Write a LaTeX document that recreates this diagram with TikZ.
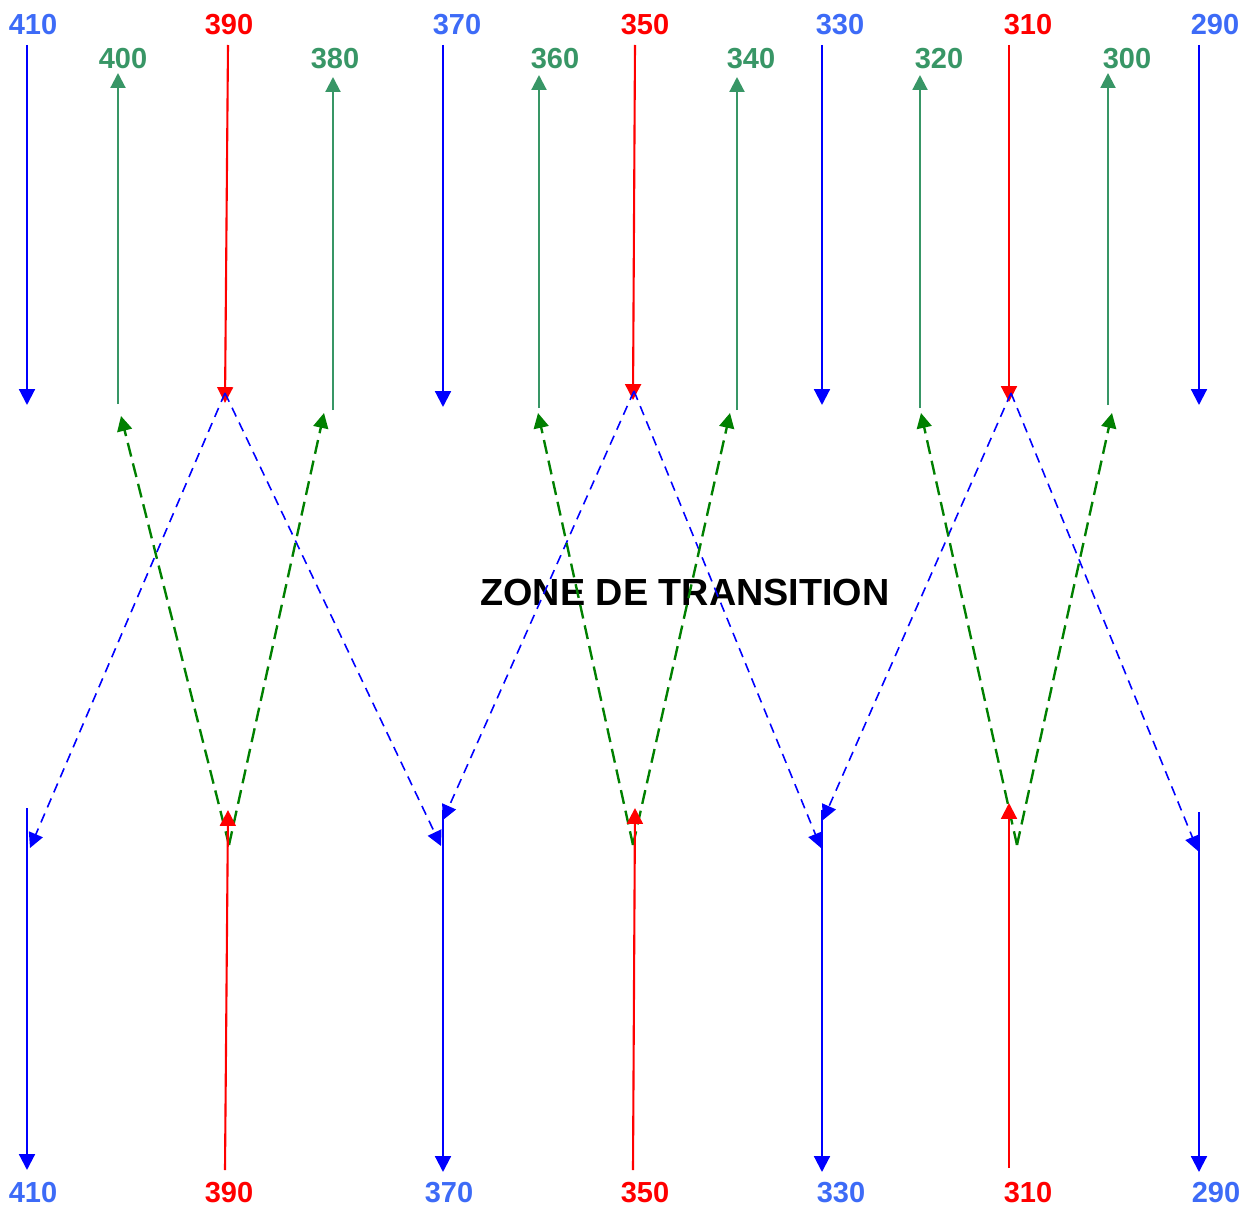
\documentclass[tikz,border=0pt]{standalone}
\usepackage{fontspec}
\setmainfont{Liberation Sans}
\usepackage{xcolor}
\usepackage{tikz}
\usetikzlibrary{arrows.meta, positioning, calc}

\definecolor{numblue}{RGB}{61,107,247}
\definecolor{numgreen}{RGB}{56,150,102}
\definecolor{dashgreen}{RGB}{0,128,0}

\tikzset{
  lblblue/.style={text=numblue, font=\bfseries\fontsize{16.5}{18}\selectfont, inner sep=0pt},
  lblred/.style={text=red, font=\bfseries\fontsize{16.5}{18}\selectfont, inner sep=0pt},
  lblgreen/.style={text=numgreen, font=\bfseries\fontsize{16.5}{18}\selectfont, inner sep=0pt},
  bluearr/.style={draw=blue, line width=1.2pt, -{Triangle[length=9pt, width=9pt]}, blue},
  redarr/.style={draw=red, line width=1.2pt, -{Triangle[length=9pt, width=9pt]}, red},
  greenarr/.style={draw=numgreen, line width=1.2pt, -{Triangle[length=8.5pt, width=8.5pt]}, numgreen},
  bluedash/.style={draw=blue, line width=0.9pt, dash pattern=on 5.5pt off 3.8pt, -{Triangle[length=8.5pt, width=8.5pt]}, blue},
  greendash/.style={draw=dashgreen, line width=1.35pt, dash pattern=on 8pt off 4pt, -{Triangle[length=8.5pt, width=8.5pt]}, dashgreen}
}

\begin{document}
\begin{tikzpicture}[x=0.02cm, y=-0.02cm]
      \useasboundingbox (0,0) rectangle (1252,1220);

      % top labels
      \node[lblblue] at (33,25) (t410) {410};
      \node[lblred] at (229,25) (t390) {390};
      \node[lblblue] at (457,25) (t370) {370};
      \node[lblred] at (645,25) (t350) {350};
      \node[lblblue] at (840,25) (t330) {330};
      \node[lblred] at (1028,25) (t310) {310};
      \node[lblblue] at (1215,25) (t290) {290};

      \node[lblgreen] at (123,59) (t400) {400};
      \node[lblgreen] at (335,59) (t380) {380};
      \node[lblgreen] at (555,59) (t360) {360};
      \node[lblgreen] at (751,59) (t340) {340};
      \node[lblgreen] at (939,59) (t320) {320};
      \node[lblgreen] at (1127,59) (t300) {300};

      % bottom labels
      \node[lblblue] at (33,1193) (b410) {410};
      \node[lblred] at (229,1193) (b390) {390};
      \node[lblblue] at (449,1193) (b370) {370};
      \node[lblred] at (645,1193) (b350) {350};
      \node[lblblue] at (841,1193) (b330) {330};
      \node[lblred] at (1028,1193) (b310) {310};
      \node[lblblue] at (1216,1193) (b290) {290};

      \node[font=\bfseries\fontsize{21.5}{26}\selectfont] at (685,592) (zone) {ZONE DE TRANSITION};

      % upper arrow ends
      \coordinate (u410a) at (27,45);   \coordinate (u410b) at (27,405);
      \coordinate (u370a) at (443,45);  \coordinate (u370b) at (443,407);
      \coordinate (u330a) at (822,45);  \coordinate (u330b) at (822,405);
      \coordinate (u290a) at (1199,45); \coordinate (u290b) at (1199,405);
      \coordinate (u390a) at (228,45);  \coordinate (u390b) at (225,403);
      \coordinate (u350a) at (635,45);  \coordinate (u350b) at (633,400);
      \coordinate (u310a) at (1009,45); \coordinate (u310b) at (1009,402);
      \coordinate (u400a) at (118,404); \coordinate (u400b) at (118,73);
      \coordinate (u380a) at (333,410); \coordinate (u380b) at (333,77);
      \coordinate (u360a) at (539,408); \coordinate (u360b) at (539,75);
      \coordinate (u340a) at (737,410); \coordinate (u340b) at (737,77);
      \coordinate (u320a) at (920,408); \coordinate (u320b) at (920,75);
      \coordinate (u300a) at (1108,405); \coordinate (u300b) at (1108,73);

      % lower arrow ends
      \coordinate (l410a) at (27,808);   \coordinate (l410b) at (27,1170);
      \coordinate (l370a) at (443,810);  \coordinate (l370b) at (443,1172);
      \coordinate (l330a) at (822,810);  \coordinate (l330b) at (822,1172);
      \coordinate (l290a) at (1199,812); \coordinate (l290b) at (1199,1172);
      \coordinate (l390a) at (225,1170); \coordinate (l390b) at (228,810);
      \coordinate (l350a) at (633,1170); \coordinate (l350b) at (635,808);
      \coordinate (l310a) at (1009,1168); \coordinate (l310b) at (1009,803);

      % transition points
      \coordinate (x390) at (225,393);
      \coordinate (x350) at (634,391);
      \coordinate (x310) at (1011,393);
      \coordinate (v390) at (229,845);
      \coordinate (v350) at (633,845);
      \coordinate (v310) at (1017,845);

      \coordinate (h410) at (30,848);
      \coordinate (h370a) at (441,846);
      \coordinate (h370b) at (443,820);
      \coordinate (h330a) at (821,848);
      \coordinate (h330b) at (823,820);
      \coordinate (h290) at (1198,851);

      \coordinate (g400) at (121,416);
      \coordinate (g380) at (324,413);
      \coordinate (g360) at (538,413);
      \coordinate (g340) at (730,413);
      \coordinate (g320) at (921,413);
      \coordinate (g300) at (1112,413);

      % solid arrows
      \draw[bluearr] (u410a) -- (u410b);
      \draw[bluearr] (u370a) -- (u370b);
      \draw[bluearr] (u330a) -- (u330b);
      \draw[bluearr] (u290a) -- (u290b);
      \draw[redarr] (u390a) -- (u390b);
      \draw[redarr] (u350a) -- (u350b);
      \draw[redarr] (u310a) -- (u310b);
      \draw[greenarr] (u400a) -- (u400b);
      \draw[greenarr] (u380a) -- (u380b);
      \draw[greenarr] (u360a) -- (u360b);
      \draw[greenarr] (u340a) -- (u340b);
      \draw[greenarr] (u320a) -- (u320b);
      \draw[greenarr] (u300a) -- (u300b);

      \draw[bluearr] (l410a) -- (l410b);
      \draw[bluearr] (l370a) -- (l370b);
      \draw[bluearr] (l330a) -- (l330b);
      \draw[bluearr] (l290a) -- (l290b);

      % dashed arrows
      \draw[bluedash] (x390) -- (h410);
      \draw[bluedash] (x390) -- (h370a);
      \draw[bluedash] (x350) -- (h370b);
      \draw[bluedash] (x350) -- (h330a);
      \draw[bluedash] (x310) -- (h330b);
      \draw[bluedash] (x310) -- (h290);

      \draw[greendash] (v390) -- (g400);
      \draw[greendash] (v390) -- (g380);
      \draw[greendash] (v350) -- (g360);
      \draw[greendash] (v350) -- (g340);
      \draw[greendash] (v310) -- (g320);
      \draw[greendash] (v310) -- (g300);

      \draw[redarr] (l390a) -- (l390b);
      \draw[redarr] (l350a) -- (l350b);
      \draw[redarr] (l310a) -- (l310b);
\end{tikzpicture}
\end{document}
